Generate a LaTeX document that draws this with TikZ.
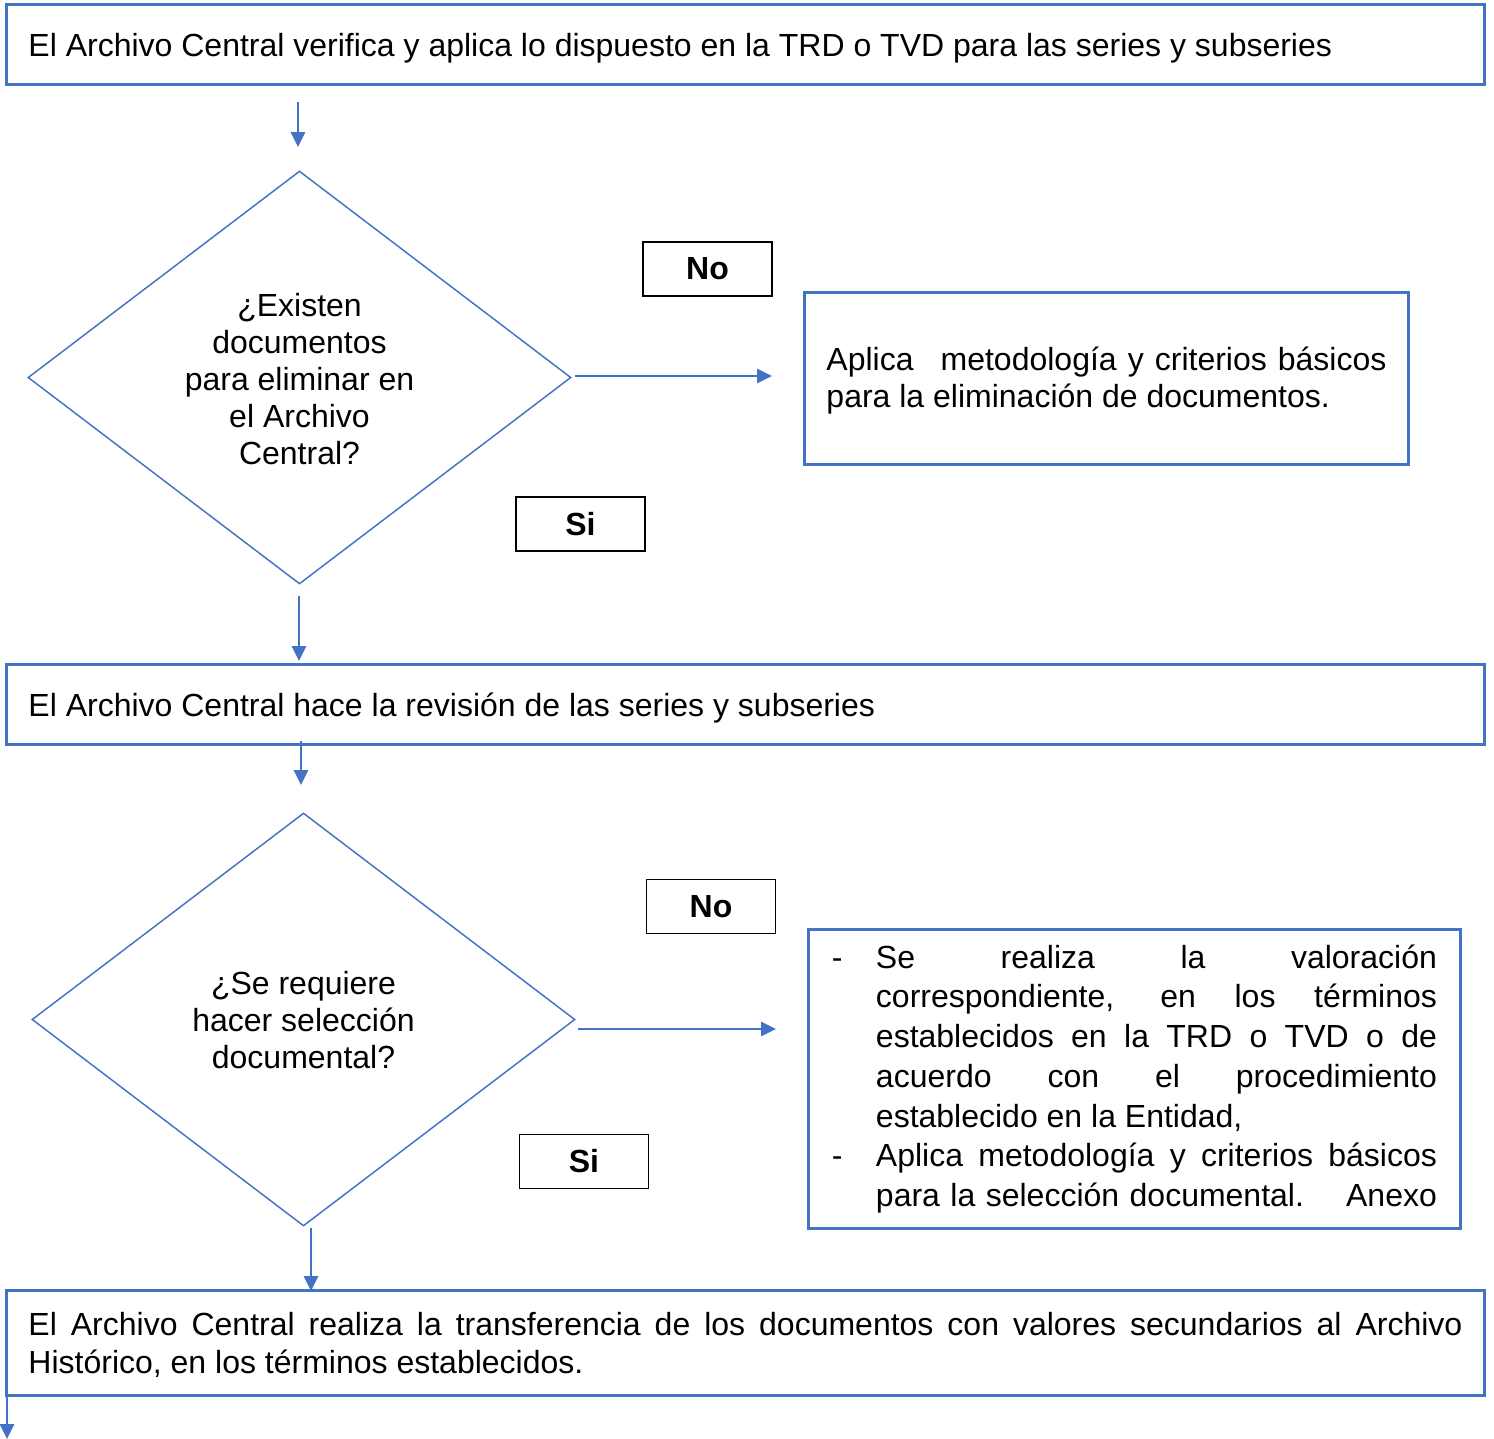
\documentclass[tikz,border=0pt]{standalone}
\usepackage{fontspec}
\setmainfont{Liberation Sans}
\usetikzlibrary{arrows.meta,shapes.geometric}
\definecolor{flowblue}{HTML}{4472C4}
\hbadness=10000 \hfuzz=2pt
\newlength\dashind
\setlength\dashind{16.5pt}
\begin{document}
\begin{tikzpicture}[x=0.375pt,y=-0.375pt,
  every node/.style={font=\fontsize{12}{13.9}\selectfont, text=black},
  stepbox/.style={draw=flowblue, line width=1.1pt, rectangle, anchor=north west,
    inner xsep=22*0.375pt, inner ysep=0pt, align=justify},
  decision/.style={draw=flowblue, line width=0.55pt, diamond, inner sep=0pt,
    minimum width=543*0.375pt, minimum height=413*0.375pt},
  answer/.style={draw=black, line width=0.55pt, rectangle, inner sep=0pt,
    minimum width=129*0.375pt, minimum height=54*0.375pt,
    font=\fontsize{12}{13.9}\selectfont\bfseries},
  flow/.style={draw=flowblue, line width=0.55pt,
    -{Triangle[length=5.6pt,width=5.4pt]}}]
\useasboundingbox (0,0) rectangle (1494,1439);

% process boxes
\node[stepbox, minimum width=1478*0.375pt, minimum height=80*0.375pt,
  text width=1434*0.375pt] (b1) at (5,3)
  {El Archivo Central verifica y aplica lo dispuesto en la TRD o TVD para las series y subseries\par\vspace*{-2.8pt}};
\node[stepbox, minimum width=604*0.375pt, minimum height=172*0.375pt,
  text width=560*0.375pt] (b1no) at (803,291)
  {Aplica\hspace{0.5em} metodología y criterios básicos\linebreak para la eliminación de documentos.\par\vspace*{-1.5pt}};
\node[stepbox, minimum width=1478*0.375pt, minimum height=80*0.375pt,
  text width=1434*0.375pt] (b2) at (5,663)
  {El Archivo Central hace la revisión de las series y subseries\par\vspace*{-2.8pt}};
\node[stepbox, minimum width=652*0.375pt, minimum height=299*0.375pt,
  text width=605*0.375pt, inner xsep=23*0.375pt,
  font=\fontsize{12}{14.9}\selectfont] (b2no) at (807,928)
  {\hangindent=\dashind\hangafter=1\noindent\makebox[\dashind][l]{-}Se realiza la valoración\linebreak correspondiente, en los términos\linebreak establecidos en la TRD o TVD o de\linebreak acuerdo con el procedimiento\linebreak establecido en la Entidad,\par
   \hangindent=\dashind\hangafter=1\parfillskip=0pt\noindent\makebox[\dashind][l]{-}Aplica metodología y criterios básicos\linebreak para la selección documental.\hspace{0.8em} Anexo\par};
\node[stepbox, minimum width=1478*0.375pt, minimum height=105*0.375pt,
  text width=1434*0.375pt] (b3) at (5,1289)
  {El Archivo Central realiza la transferencia de los documentos con valores secundarios al Archivo\linebreak Histórico, en los términos establecidos.\par\vspace*{-1.5pt}};

% decisions
\node[decision] (d1) at (299.5,377.5) {};
\node[align=center] (d1t) at (299.5,379) {¿Existen\\documentos\\para eliminar en\\el Archivo\\Central?};
\node[decision] (d2) at (303.5,1019.5) {};
\node[align=center] (d2t) at (303.5,1020) {¿Se requiere\\hacer selección\\documental?};

% answer labels
\node[answer] (no1) at (707.5,269) {No};
\node[answer] (si1) at (580.5,524) {Si};
\node[answer] (no2) at (711,906.5) {No};
\node[answer] (si2) at (584,1161.5) {Si};

% connector ends
\coordinate (c1a) at (298,102);  \coordinate (c1b) at (298,147);
\coordinate (c2a) at (575,376);  \coordinate (c2b) at (772,376);
\coordinate (c3a) at (299,596);  \coordinate (c3b) at (299,661);
\coordinate (c4a) at (301,741);  \coordinate (c4b) at (301,785);
\coordinate (c5a) at (578,1029); \coordinate (c5b) at (776,1029);
\coordinate (c6a) at (311,1228); \coordinate (c6b) at (311,1291);
\coordinate (c7a) at (7,1394);   \coordinate (c7b) at (7,1439);

\draw[flow] (c1a) -- (c1b);
\draw[flow] (c2a) -- (c2b);
\draw[flow] (c3a) -- (c3b);
\draw[flow] (c4a) -- (c4b);
\draw[flow] (c5a) -- (c5b);
\draw[flow] (c6a) -- (c6b);
\draw[flow] (c7a) -- (c7b);
\end{tikzpicture}
\end{document}
